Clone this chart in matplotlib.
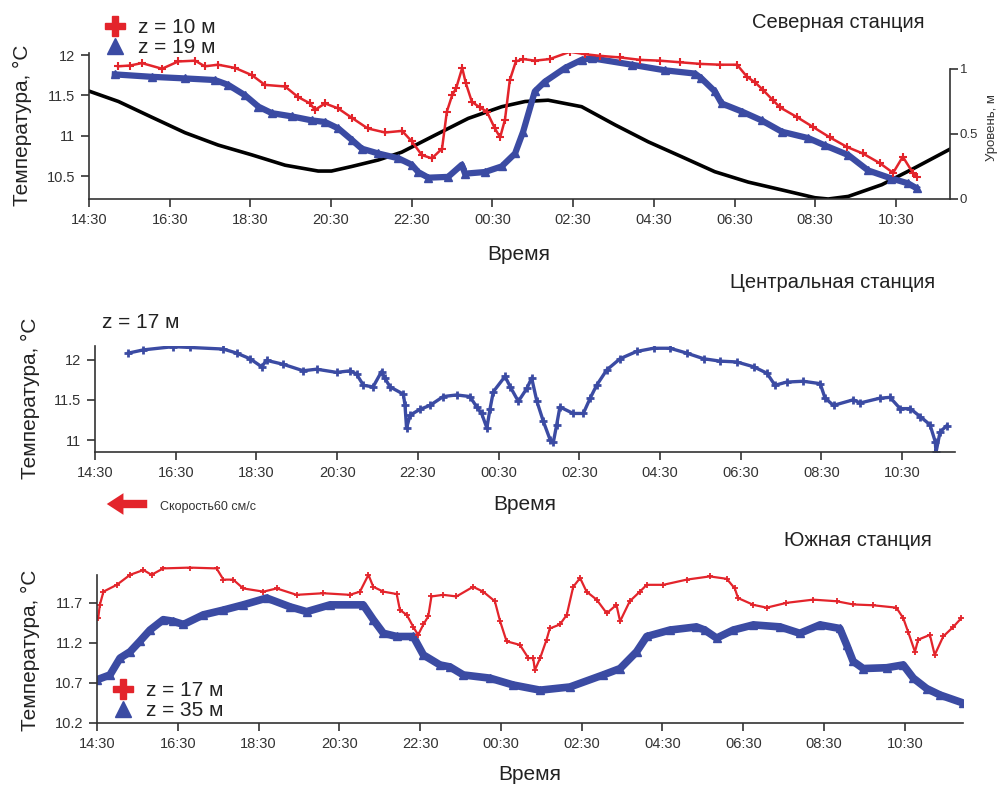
import matplotlib
matplotlib.use("Agg")
import matplotlib.pyplot as plt
from matplotlib.lines import Line2D

plt.rcParams['font.family'] = ['Liberation Sans', 'DejaVu Sans']

W, H = 1006, 787
RED = '#e3242b'
BLUE = '#3b4ba3'
GREY = '#333333'

# hours since 14:30
tick_hours = [0, 2, 4, 6, 8, 10, 12, 14, 16, 18, 20]
tick_labels = ['14:30', '16:30', '18:30', '20:30', '22:30', '00:30',
               '02:30', '04:30', '06:30', '08:30', '10:30']

# North station, z = 10 m
north10_t = [0.72, 1.02, 1.31, 1.81, 2.21, 2.63, 2.87, 3.20, 3.62, 4.04,
             4.36, 4.86, 5.18, 5.48, 5.60, 5.85, 6.17, 6.52, 6.91, 7.34,
             7.76, 8.00, 8.25, 8.50, 8.75, 8.87, 9.00, 9.10, 9.25, 9.34,
             9.49, 9.69, 9.86, 10.06, 10.19, 10.31, 10.43, 10.58, 10.76, 11.05,
             11.42, 11.92, 12.29, 12.66, 13.16, 13.66, 14.15, 14.65, 15.15, 15.64,
             16.06, 16.31, 16.51, 16.70, 16.95, 17.13, 17.55, 17.94, 18.36, 18.79,
             19.18, 19.60, 19.93, 20.17, 20.42, 20.52]
north10_v = [11.86, 11.87, 11.90, 11.83, 11.92, 11.93, 11.86, 11.88, 11.84, 11.75,
             11.63, 11.61, 11.48, 11.40, 11.32, 11.40, 11.34, 11.22, 11.09, 11.04,
             11.06, 10.93, 10.76, 10.72, 10.84, 11.30, 11.50, 11.59, 11.84, 11.65,
             11.42, 11.35, 11.30, 11.09, 10.98, 11.20, 11.69, 11.92, 11.95, 11.93,
             11.95, 12.04, 12.01, 11.99, 11.97, 11.94, 11.93, 11.91, 11.89, 11.88,
             11.88, 11.73, 11.66, 11.57, 11.44, 11.35, 11.23, 11.11, 10.98, 10.86,
             10.78, 10.66, 10.54, 10.74, 10.54, 10.49]

# North station, z = 19 m
north19_t = [0.64, 1.55, 2.38, 3.12, 3.45, 3.87, 4.20, 4.53, 5.02, 5.52,
             5.85, 6.18, 6.51, 6.76, 7.17, 7.67, 8.00, 8.16, 8.41, 8.90,
             9.24, 9.32, 9.81, 10.23, 10.56, 10.76, 11.05, 11.30, 11.80, 12.21,
             12.46, 13.45, 14.28, 15.02, 15.18, 15.51, 15.68, 16.18, 16.67, 17.17,
             17.83, 18.24, 18.82, 19.31, 19.89, 20.30, 20.51]
north19_v = [11.76, 11.73, 11.71, 11.69, 11.63, 11.50, 11.36, 11.28, 11.24, 11.19,
             11.17, 11.09, 10.95, 10.84, 10.78, 10.72, 10.64, 10.55, 10.48, 10.49,
             10.64, 10.53, 10.55, 10.62, 10.78, 11.05, 11.55, 11.67, 11.84, 11.94,
             11.96, 11.88, 11.81, 11.77, 11.71, 11.55, 11.40, 11.30, 11.19, 11.05,
             10.97, 10.88, 10.76, 10.57, 10.47, 10.41, 10.35]

# sea level, m
level_t = [0, 0.73, 1.55, 2.38, 3.20, 4.03, 4.86, 5.68, 6.01, 6.51,
           7.17, 7.75, 8.57, 9.40, 10.23, 10.81, 11.38, 12.21, 13.04, 13.86,
           14.69, 15.51, 16.34, 17.17, 17.99, 18.32, 18.82, 19.65, 20.47, 21.38]
level_v = [0.83, 0.75, 0.63, 0.51, 0.415, 0.34, 0.26, 0.215, 0.215, 0.25,
           0.30, 0.36, 0.49, 0.62, 0.71, 0.75, 0.76, 0.71, 0.57, 0.44,
           0.325, 0.21, 0.13, 0.07, 0.01, 0.0, 0.02, 0.11, 0.24, 0.39]

# Central station, z = 17 m
central_t = [0.83, 1.20, 1.94, 2.35, 3.18, 3.51, 3.84, 4.13, 4.25, 4.67,
             5.16, 5.49, 5.99, 6.32, 6.48, 6.65, 6.89, 7.10, 7.18, 7.31,
             7.64, 7.68, 7.72, 7.81, 8.05, 8.30, 8.63, 8.96, 9.29, 9.46,
             9.58, 9.71, 9.79, 9.87, 10.16, 10.29, 10.49, 10.70, 10.82, 10.95,
             11.11, 11.28, 11.36, 11.44, 11.52, 11.85, 12.10, 12.27, 12.43, 12.68,
             13.01, 13.42, 13.84, 14.25, 14.66, 15.08, 15.49, 15.90, 16.32, 16.65,
             16.85, 17.14, 17.55, 17.97, 18.09, 18.30, 18.79, 18.96, 19.45, 19.70,
             19.95, 20.20, 20.45, 20.69, 20.82, 20.84, 20.94, 21.11]
central_v = [12.08, 12.12, 12.16, 12.15, 12.13, 12.08, 12.01, 11.91, 11.99, 11.94,
             11.86, 11.88, 11.84, 11.86, 11.82, 11.68, 11.66, 11.85, 11.77, 11.66,
             11.57, 11.44, 11.15, 11.31, 11.38, 11.43, 11.54, 11.56, 11.54, 11.41,
             11.33, 11.15, 11.39, 11.60, 11.79, 11.66, 11.48, 11.64, 11.77, 11.48,
             11.23, 11.00, 10.98, 11.19, 11.41, 11.33, 11.33, 11.52, 11.68, 11.87,
             12.01, 12.10, 12.14, 12.14, 12.08, 12.01, 11.98, 11.97, 11.91, 11.83,
             11.68, 11.72, 11.73, 11.70, 11.52, 11.43, 11.50, 11.46, 11.52, 11.53,
             11.39, 11.39, 11.29, 11.19, 10.98, 10.85, 11.10, 11.18]

# South station, z = 17 m
south17_t = [0.03, 0.07, 0.16, 0.49, 0.82, 1.15, 1.35, 1.64, 2.30, 2.96,
             3.13, 3.37, 3.62, 4.12, 4.45, 4.94, 5.60, 6.26, 6.51, 6.72,
             6.84, 7.09, 7.42, 7.50, 7.67, 7.83, 7.95, 8.08, 8.20, 8.28,
             8.57, 8.90, 9.31, 9.56, 9.85, 9.98, 10.14, 10.47, 10.68, 10.80,
             10.84, 10.97, 11.13, 11.21, 11.46, 11.63, 11.79, 11.96, 12.12, 12.37,
             12.62, 12.86, 12.95, 13.19, 13.44, 13.61, 14.02, 14.60, 15.17, 15.59,
             15.79, 15.87, 16.25, 16.58, 17.07, 17.73, 18.31, 18.72, 19.21, 19.79,
             19.96, 20.08, 20.25, 20.33, 20.62, 20.74, 20.95, 21.20, 21.40]
south17_v = [11.51, 11.675, 11.84, 11.925, 12.05, 12.11, 12.05, 12.13, 12.14, 12.13,
             11.99, 11.99, 11.88, 11.84, 11.88, 11.80, 11.82, 11.80, 11.84, 12.05,
             11.90, 11.84, 11.81, 11.61, 11.55, 11.40, 11.30, 11.43, 11.53, 11.78,
             11.80, 11.78, 11.90, 11.84, 11.72, 11.47, 11.22, 11.175, 11.01, 11.01,
             10.86, 11.01, 11.24, 11.38, 11.43, 11.55, 11.90, 12.01, 11.84, 11.74,
             11.57, 11.675, 11.47, 11.72, 11.84, 11.925, 11.925, 11.99, 12.03, 12.00,
             11.88, 11.76, 11.675, 11.64, 11.70, 11.74, 11.72, 11.68, 11.67, 11.64,
             11.51, 11.34, 11.09, 11.24, 11.30, 11.05, 11.28, 11.40, 11.51]

# South station, z = 35 m
south35_t = [0.0, 0.32, 0.57, 0.82, 1.06, 1.31, 1.64, 1.89, 2.14, 2.63,
             3.13, 3.62, 4.20, 4.78, 5.19, 5.77, 6.59, 6.84, 7.09, 7.42,
             7.83, 8.08, 8.49, 8.74, 9.07, 9.73, 10.30, 10.97, 11.71, 12.53,
             12.95, 13.36, 13.61, 14.18, 14.84, 15.05, 15.34, 15.75, 16.25, 16.91,
             17.40, 17.90, 18.39, 18.56, 18.72, 18.97, 19.55, 19.96, 20.21, 20.54,
             20.87, 21.44]
south35_v = [10.74, 10.80, 11.01, 11.09, 11.22, 11.36, 11.49, 11.47, 11.43, 11.55,
             11.61, 11.675, 11.76, 11.65, 11.59, 11.675, 11.675, 11.49, 11.32, 11.28,
             11.28, 11.05, 10.925, 10.90, 10.80, 10.76, 10.675, 10.61, 10.65, 10.80,
             10.88, 11.09, 11.28, 11.36, 11.40, 11.36, 11.26, 11.36, 11.425, 11.40,
             11.32, 11.425, 11.38, 11.175, 10.97, 10.88, 10.89, 10.925, 10.76, 10.63,
             10.55, 10.45]


def rect(left, right, top, bottom):
    # pixel box -> figure fraction
    return [left / W, 1 - bottom / H, (right - left) / W, (bottom - top) / H]


def style_axes(ax, xmax, ylim, yticks, ytick_labels):
    ax.set_xlim(0, xmax)
    ax.set_ylim(*ylim)
    for side in ('top', 'right'):
        ax.spines[side].set_visible(False)
    for side in ('left', 'bottom'):
        ax.spines[side].set_color(GREY)
        ax.spines[side].set_linewidth(1.2)
    ax.set_xticks(tick_hours)
    ax.set_xticklabels(tick_labels)
    ax.set_yticks(yticks)
    ax.set_yticklabels(ytick_labels)
    ax.tick_params(direction='out', length=6, width=1.2, color=GREY,
                   labelcolor=GREY, labelsize=10.5, pad=4)
    ax.patch.set_alpha(0)


def fig_text(x, y, s, **kw):
    fig.text(x / W, 1 - y / H, s, **kw)


fig = plt.figure(figsize=(W / 100, H / 100), dpi=100)

# ---- North station
ax1 = fig.add_axes(rect(89, 950, 53, 199))
ax1b = ax1.twinx()
ax1b.plot(level_t, level_v, color='black', lw=2.6, zorder=1)
ax1b.set_ylim(0, 1.123)
ax1b.set_xlim(0, 21.34)
ax1b.set_yticks([0, 0.5, 1])
ax1b.set_yticklabels(['0', '0.5', '1'])
for side in ('top', 'left', 'bottom'):
    ax1b.spines[side].set_visible(False)
ax1b.spines['right'].set_bounds(0, 1)
ax1b.spines['right'].set_color(GREY)
ax1b.spines['right'].set_linewidth(1.2)
ax1b.tick_params(direction='out', length=6, width=1.2, color=GREY,
                 labelcolor=GREY, labelsize=9.5, pad=1)
ax1b.set_zorder(1)
ax1.set_zorder(2)
style_axes(ax1, 21.34, (10.216, 12.025), [10.5, 11, 11.5, 12],
           ['10.5', '11', '11.5', '12'])
ax1.plot(north19_t, north19_v, color=BLUE, lw=4.5, marker='^', ms=5.5,
         mec=BLUE, mfc=BLUE)
ax1.plot(north10_t, north10_v, color=RED, lw=1.8, marker='+', ms=5.5, mew=1.5)

fig_text(925, 22, 'Северная станция', fontsize=14.5, ha='right', va='center',
         color='#222222')
fig_text(22, 125, 'Температура, °C', fontsize=15, rotation=90, ha='center',
         va='center', color='#222222')
fig_text(519, 254, 'Время', fontsize=15, ha='center', va='center', color='#222222')
fig_text(992, 128, 'Уровень, м', fontsize=9.5, rotation=90, ha='center',
         va='center', color='#333333')

h_red = Line2D([], [], ls='none', marker='P', ms=15, color=RED, mec=RED)
h_blue = Line2D([], [], ls='none', marker='^', ms=12, color=BLUE, mec=BLUE)
fig.legend([h_red, h_blue], ['z = 10 м', 'z = 19 м'], loc='upper left',
           bbox_to_anchor=(92 / W, 1 - 8 / H), frameon=False, fontsize=15,
           handletextpad=0.5, labelspacing=0.05, borderpad=0, handlelength=1.2,
           labelcolor='#222222')

# ---- Central station
ax2 = fig.add_axes(rect(95, 955, 346, 452))
style_axes(ax2, 21.31, (10.851, 12.168), [11, 11.5, 12], ['11', '11.5', '12'])
ax2.plot(central_t, central_v, color=BLUE, lw=2.4, marker='+', ms=5.5, mew=2)

fig_text(935, 282, 'Центральная станция', fontsize=14.5, ha='right',
         va='center', color='#222222')
fig_text(102, 322, 'z = 17 м', fontsize=15, ha='left', va='center',
         color='#222222')
fig_text(30, 398, 'Температура, °C', fontsize=15, rotation=90, ha='center',
         va='center', color='#222222')
fig_text(525, 505, 'Время', fontsize=15, ha='center', va='center', color='#222222')
fig_text(160, 507, 'Скорость60 см/с', fontsize=9, ha='left', va='center',
         color='#333333')
fig.add_artist(matplotlib.patches.FancyArrowPatch(
    (150 / W, 1 - 504 / H), (104 / W, 1 - 504 / H), transform=fig.transFigure,
    arrowstyle='simple,head_length=1.0,head_width=1.3,tail_width=0.5',
    mutation_scale=12, color=RED, lw=0))

# ---- South station
ax3 = fig.add_axes(rect(97, 963, 566, 723))
style_axes(ax3, 21.44, (10.2, 12.16), [10.2, 10.7, 11.2, 11.7],
           ['10.2', '10.7', '11.2', '11.7'])
ax3.spines['left'].set_bounds(10.2, 12.05)
ax3.plot(south35_t, south35_v, color=BLUE, lw=5.5, marker='^', ms=5.5,
         mec=BLUE, mfc=BLUE)
ax3.plot(south17_t, south17_v, color=RED, lw=1.6, marker='+', ms=5, mew=1.3)

fig_text(932, 541, 'Южная станция', fontsize=14.5, ha='right', va='center',
         color='#222222')
fig_text(30, 650, 'Температура, °C', fontsize=15, rotation=90, ha='center',
         va='center', color='#222222')
fig_text(530, 774, 'Время', fontsize=15, ha='center', va='center', color='#222222')
h_red3 = Line2D([], [], ls='none', marker='P', ms=15, color=RED, mec=RED)
h_blue3 = Line2D([], [], ls='none', marker='^', ms=12, color=BLUE, mec=BLUE)
fig.legend([h_red3, h_blue3], ['z = 17 м', 'z = 35 м'], loc='upper left',
           bbox_to_anchor=(100 / W, 1 - 671 / H), frameon=False, fontsize=15,
           handletextpad=0.5, labelspacing=0.05, borderpad=0, handlelength=1.2,
           labelcolor='#222222')

fig.savefig('out.png', dpi=100)
